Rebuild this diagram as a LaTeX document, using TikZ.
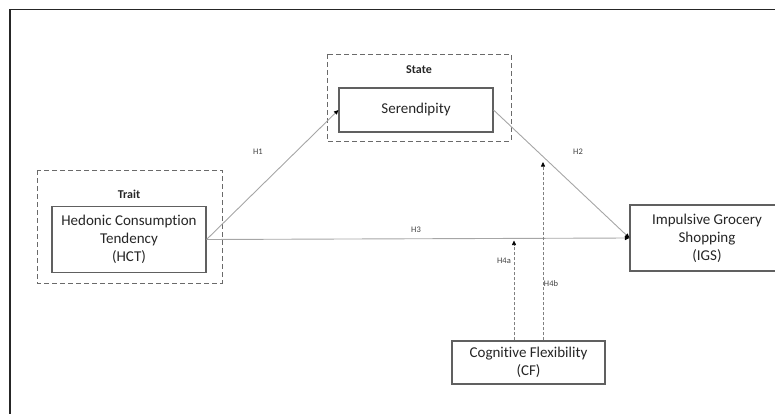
\documentclass[tikz,border=0pt]{standalone}
\usepackage{fontspec}
\setmainfont{Carlito}[Ligatures={NoCommon}]
\usetikzlibrary{arrows.meta}
\definecolor{boxgray}{HTML}{606060}
\definecolor{grpgray}{HTML}{6A6A6A}
\definecolor{linegray}{HTML}{A6A6A6}
\definecolor{dashgray}{HTML}{808080}
\definecolor{labgray}{HTML}{404040}
\begin{document}
\begin{tikzpicture}[x=1pt,y=-1pt,
  varbox/.style={draw=boxgray, line width=1.1pt, fill=white, inner sep=0pt, align=center,
    minimum width=154pt, font=\fontsize{15}{18}\selectfont, text=black!85},
  groupbox/.style={draw=grpgray, line width=0.9pt, dash pattern=on 5pt off 3pt},
  grouplab/.style={font=\fontsize{12}{14}\selectfont\bfseries, text=black!85},
  path/.style={draw=linegray, line width=0.9pt, -{Triangle[length=4.5pt,width=4pt,color=black]}},
  modpath/.style={draw=dashgray, line width=0.6pt, dash pattern=on 3pt off 2pt, -{Triangle[length=4.5pt,width=4pt,color=black]}},
  hlab/.style={font=\fontsize{8.5}{10}\selectfont, text=labgray, inner sep=0pt}]
\useasboundingbox (0,0) rectangle (775,414);
% outer frame
\draw[line width=1.8pt, black!85] (10,430) -- (10,9.5) -- (790,9.5);
% group boxes
\draw[groupbox] (37,170) rectangle (222,283);
\draw[groupbox] (327,54) rectangle (511,141);
\node[grouplab] (trait) at (129,194) {Trait};
\node[grouplab] (state) at (419,70) {State};
% variables
\node[varbox, minimum height=66pt] (hct) at (129,239.5) {Hedonic Consumption\\Tendency\\(HCT)};
\node[varbox, minimum height=44pt] (ser) at (416,110) {Serendipity};
\node[varbox, minimum height=66pt] (igs) at (707,238) {Impulsive Grocery\\Shopping\\(IGS)};
\node[varbox, minimum width=153pt, minimum height=43pt] (cf) at (528.5,362.5) {Cognitive Flexibility\\(CF)};
% moderation targets
\coordinate (h4atip) at (514,240.5);
\coordinate (h4btip) at (543,162);
% paths
\draw[path] (hct.east) -- (ser.west);
\draw[path] (ser.east) -- (igs.west);
\draw[path] (hct.east) -- (igs.west);
\draw[modpath] (h4atip |- cf.north) -- (h4atip);
\draw[modpath] (h4btip |- cf.north) -- (h4btip);
% labels
\node[hlab] (l1) at (258,152) {H1};
\node[hlab] (l2) at (578,152) {H2};
\node[hlab] (l3) at (416,230) {H3};
\node[hlab] (l4a) at (504,261) {H4a};
\node[hlab] (l4b) at (551,284) {H4b};
\end{tikzpicture}
\end{document}
